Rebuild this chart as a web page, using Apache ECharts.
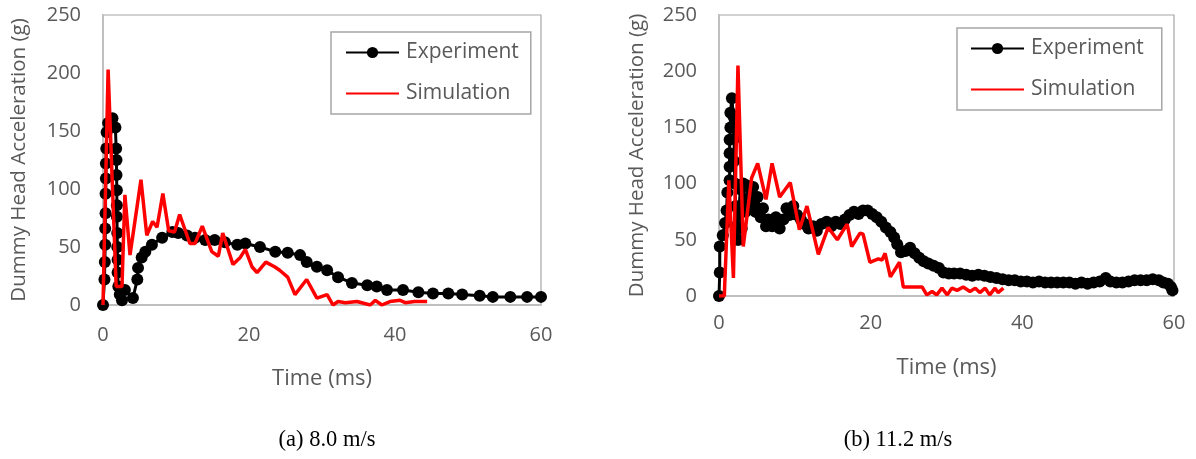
<!DOCTYPE html>
<html><head><meta charset="utf-8">
<script src="https://cdn.jsdelivr.net/npm/echarts@6/dist/echarts.min.js"></script>
<style>html,body{margin:0;padding:0;background:#fff}#c{width:1196px;height:459px}</style>
</head><body><div id="c"></div>
<script>
// ---- data (time ms, acceleration g) ----
const seriesNames = ['Experiment', 'Simulation'];
const captions = ['(a) 8.0 m/s', '(b) 11.2 m/s'];
const xTicks = [0, 20, 40, 60];
const yTicks = [0, 50, 100, 150, 200, 250];

const expA = [[0,0],[0.2,22],[0.25,37],[0.3,52],[0.3,66],[0.35,79],[0.35,96],[0.4,109],[0.4,122],[0.45,135],[0.5,149],[0.7,157],[1.3,161],[1.7,153],[1.8,135],[1.85,125],[1.85,112],[1.9,99],[1.9,86],[1.9,76],[1.95,62],[1.95,50],[2.0,39],[2.0,28],[2.1,16],[2.3,9],[2.6,4],[3.0,13],[4.1,6],[4.7,22],[4.8,32],[5.3,41],[5.8,46],[6.7,52],[8.1,58],[9.5,63],[10.3,62],[11.5,60],[12.6,58],[14.0,56],[15.3,56],[16.7,54],[18.4,52],[19.5,53],[21.5,50],[23.6,46],[25.3,45],[27.0,43],[27.9,37],[29.3,33],[30.7,30],[32.2,24],[34.1,19],[36.2,17],[37.5,16],[38.9,13],[41.1,13],[43.2,11],[45.2,10],[47.3,10],[49.2,9],[51.6,8],[53.4,7],[55.8,7],[58.1,7],[60,7]];

const simA = [[0,0],[0.7,203],[1.8,16],[2.6,16],[3.0,95],[3.7,43],[5.2,108],[6.0,60],[6.8,72],[7.4,67],[8.2,96],[9.0,64],[9.8,63],[10.5,78],[11.9,53],[12.6,53],[13.6,68],[14.9,46],[15.8,42],[16.4,62],[17.8,35],[18.8,41],[19.5,48],[20.4,33],[21.1,28],[22.3,37],[23.5,33],[24.2,30],[25.3,24],[26.3,9],[27.9,22],[29.3,6],[30.7,9],[31.5,0],[32.2,3],[33.2,2],[34.8,3],[36.6,0],[37.3,4],[38.2,0],[39.3,3],[40.7,4],[41.4,2],[42.7,3],[43.8,3],[44.4,3]];

const expB = [[0,0],[0.1,21],[0.1,44],[0.5,54],[0.8,65],[1.0,76],[1.1,92],[1.4,103],[1.4,115],[1.4,127],[1.4,139],[1.5,150],[1.5,163],[1.7,176],[1.9,160],[2.0,140],[2.0,120],[2.1,100],[2.2,80],[2.3,62],[2.4,50],[2.6,50],[2.8,95],[3.0,60],[3.2,100],[3.5,75],[3.8,98],[4.2,80],[4.5,97],[4.8,75],[5.1,88],[5.5,70],[5.8,78],[6.2,62],[6.5,68],[7.0,62],[7.5,70],[8.0,60],[8.5,68],[8.9,78],[9.3,72],[9.8,80],[10.3,72],[10.8,68],[11.3,64],[11.8,60],[12.4,62],[12.9,58],[13.5,64],[14.2,66],[14.8,62],[15.4,66],[16.0,64],[16.6,68],[17.2,72],[17.8,75],[18.4,73],[19.0,76],[19.6,76],[20.2,73],[20.8,70],[21.4,66],[22.0,61],[22.6,57],[23.1,52],[23.5,46],[24.0,39],[24.6,40],[25.2,43],[25.8,38],[26.4,34],[27.0,31],[27.6,29],[28.3,27],[29.0,25],[29.6,21],[30.3,20],[31.0,20],[31.8,20],[32.6,19],[33.4,18],[34.2,19],[35.0,18],[35.8,17],[36.6,16],[37.4,15],[38.2,14],[39.0,14],[39.8,13],[40.6,13],[41.4,12],[42.2,13],[43.0,12],[43.8,12],[44.6,12],[45.4,12],[46.2,12],[47.0,11],[47.8,12],[48.6,11],[49.4,12],[50.2,13],[51.0,16],[51.6,13],[52.4,12],[53.2,12],[54.0,13],[54.8,14],[55.6,14],[56.4,14],[57.2,15],[58.0,14],[58.6,12],[59.2,11],[59.6,8],[59.8,5]];

const simB = [[0,0],[0.7,0],[1.3,103],[1.9,16],[2.5,205],[3.2,44],[4.3,105],[5.1,118],[6.2,86],[7.0,118],[8.0,88],[9.4,101],[10.6,59],[11.6,80],[13.1,37],[14.4,61],[15.6,50],[16.9,64],[17.5,44],[18.6,56],[19.0,55],[19.9,30],[21.0,33],[21.5,32],[21.9,38],[22.6,17],[23.8,30],[24.3,8],[26.8,8],[27.4,1],[28.1,4],[28.7,1],[29.4,7],[30.1,1],[30.7,7],[31.4,5],[32.2,8],[33.1,4],[33.8,7],[34.4,3],[35.1,7],[35.7,1],[36.4,7],[36.8,3],[37.5,7]];

// ---- chart ----
const FONT = 'Open Sans';
const GRAY = '#595959';
const grids = [
  {left: 103, top: 15, width: 438, height: 290},
  {left: 719, top: 15, width: 455, height: 281}
];
function xAx(i, gap, margin){
  return {type:'value', gridIndex:i, min:xTicks[0], max:xTicks[xTicks.length-1], interval:20,
    name:'Time (ms)', nameLocation:'middle', nameGap:gap,
    nameTextStyle:{fontFamily:FONT, fontSize:22, color:GRAY},
    axisLine:{show:true, lineStyle:{color:'#bfbfbf', width:2}}, axisTick:{show:false},
    splitLine:{show:false},
    axisLabel:{fontFamily:FONT, fontSize:20, color:GRAY, margin:margin}};
}
function yAx(i, gap){
  return {type:'value', gridIndex:i, min:yTicks[0], max:yTicks[yTicks.length-1], interval:50,
    name:'Dummy Head Acceleration (g)', nameLocation:'middle', nameGap:gap,
    nameTextStyle:{fontFamily:FONT, fontSize:20.5, color:GRAY},
    axisLine:{show:true, lineStyle:{color:'#bfbfbf', width:2}}, axisTick:{show:false},
    splitLine:{show:false},
    axisLabel:{fontFamily:FONT, fontSize:20, color:GRAY, margin:22}};
}
function expSeries(i, data){
  return {name:seriesNames[0], type:'line', xAxisIndex:i, yAxisIndex:i, data:data,
    symbol:'circle', symbolSize:12, showSymbol:true, animation:false,
    itemStyle:{color:'#000'}, lineStyle:{color:'#000', width:3}, z:2};
}
function simSeries(i, data){
  return {name:seriesNames[1], type:'line', xAxisIndex:i, yAxisIndex:i, data:data,
    symbol:'none', animation:false,
    itemStyle:{color:'#ff0000'}, lineStyle:{color:'#ff0000', width:3.5}, z:3};
}
function legend(left, top, pad){
  return {data:[{name:seriesNames[0]}, {name:seriesNames[1], itemStyle:{opacity:0}}],
    orient:'vertical', left:left, top:top,
    itemWidth:53, itemHeight:14, itemGap:20, padding:pad,
    borderColor:'#a6a6a6', borderWidth:1.5,
    textStyle:{fontFamily:FONT, fontSize:21, color:GRAY, padding:[0,0,0,2]}};
}
const chart = echarts.init(document.getElementById('c'), null, {renderer:'canvas'});
chart.setOption({
  backgroundColor:'#fff',
  animation:false,
  grid: grids.map(g => Object.assign({show:true, borderColor:'#a6a6a6', borderWidth:1.2, containLabel:false}, g)),
  xAxis:[xAx(0, 63, 20), xAx(1, 61, 17)],
  yAxis:[yAx(0, 73), yAx(1, 71)],
  legend:[legend(331, 32, [10,12,10,14]), legend(957, 28, [10,18,10,13])],
  title:[
    {text:captions[0], left:322, top:424, textAlign:'center', textStyle:{fontFamily:'Liberation Serif', fontSize:22.5, fontWeight:'normal', color:'#000'}},
    {text:captions[1], left:893, top:424, textAlign:'center', textStyle:{fontFamily:'Liberation Serif', fontSize:22.5, fontWeight:'normal', color:'#000'}}
  ],
  series:[expSeries(0, expA), simSeries(0, simA), expSeries(1, expB), simSeries(1, simB)]
});
</script></body></html>
